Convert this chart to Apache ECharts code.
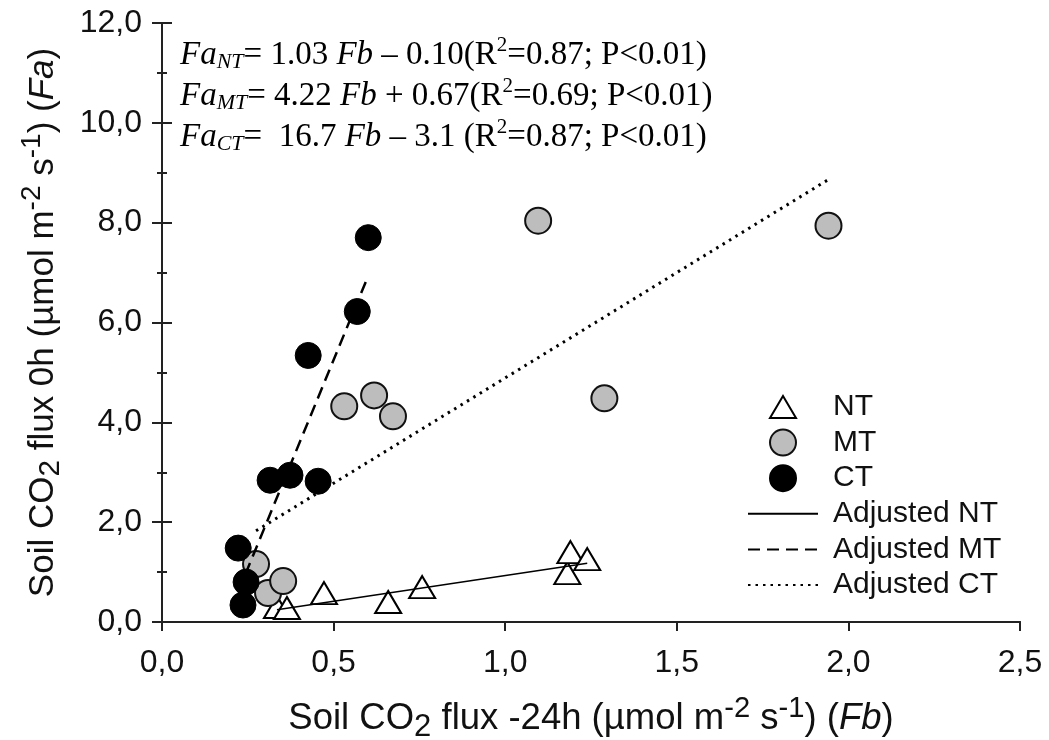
<!DOCTYPE html>
<html>
<head>
<meta charset="utf-8">
<script src="https://cdn.jsdelivr.net/npm/echarts@6/dist/echarts.min.js"></script>
<style>
  html, body { margin: 0; padding: 0; background: #fff; }
  #chart { width: 1049px; height: 740px; }
</style>
</head>
<body>
<div id="chart"></div>
<script>
  // values: Fb = flux -24h (x), Fa = flux 0h (y)
  const ntFb = [0.335, 0.364, 0.472, 0.659, 0.758, 1.181, 1.190, 1.239]
  const ntFa = [0.30, 0.28, 0.58, 0.40, 0.70, 0.98, 1.40, 1.26]
  const mtFb = [0.274, 0.309, 0.353, 0.531, 0.618, 0.673, 1.096, 1.289, 1.942]
  const mtFa = [1.16, 0.58, 0.82, 4.32, 4.54, 4.12, 8.04, 4.48, 7.94]
  const ctFb = [0.222, 0.245, 0.236, 0.315, 0.373, 0.455, 0.426, 0.569, 0.601]
  const ctFa = [1.48, 0.80, 0.34, 2.84, 2.94, 2.82, 5.34, 6.22, 7.70]

  // fitted lines, as labelled in the legend of the original figure
  const fitNames = ['Adjusted NT', 'Adjusted MT', 'Adjusted CT']
  const fitSlopes = [1.03, 16.7, 4.22]
  const fitIntercepts = [-0.10, -3.1, 0.67]
  const fitSpans = [ntFb, ctFb, mtFb] // x range each line is drawn over

  const xTicks = [0, 2.5, 0.5] // min, max, interval
  const yTicks = [0, 12, 2]

  const equations = [
    '{i|Fa}{si|NT}{r|= 1.03 }{i|Fb}{r| – 0.10(R}{sup|2}{r|=0.87; P<0.01)}',
    '{i|Fa}{si|MT}{r|= 4.22 }{i|Fb}{r| + 0.67(R}{sup|2}{r|=0.69; P<0.01)}',
    '{i|Fa}{si|CT}{r|=  16.7 }{i|Fb}{r| – 3.1 (R}{sup|2}{r|=0.87; P<0.01)}'
  ]

  const pairs = (xs, ys) => xs.map((x, i) => [x, ys[i]])
  const fitLine = (k) => {
    const lo = Math.min(...fitSpans[k])
    const hi = Math.max(...fitSpans[k])
    return [lo, hi].map(x => [x, fitSlopes[k] * x + fitIntercepts[k]])
  }
  const comma = v => v.toFixed(1).replace('.', ',')

  const sans = 'Liberation Sans, Arial, sans-serif'
  const serif = 'Liberation Serif, Times New Roman, serif'
  const ink = '#111'
  const axisLine = { show: true, lineStyle: { color: '#222', width: 2 } }
  const tickStyle = { color: '#222', width: 2 }

  const nameRich = (size) => ({
    a: { fontSize: size, fontFamily: sans, color: ink },
    i: { fontSize: size, fontFamily: sans, fontStyle: 'italic', color: ink },
    sub: { fontSize: size * 0.85, fontFamily: sans, color: ink, padding: [size * 0.47, 0, 0, 0] },
    sup: { fontSize: size * 0.8, fontFamily: sans, color: ink, padding: [0, 0, size * 0.58, 0] }
  })

  const chart = echarts.init(document.getElementById('chart'))

  chart.setOption({
    animation: false,
    backgroundColor: '#fff',
    grid: { left: 162, right: 29, top: 23, bottom: 118, containLabel: false, outerBoundsMode: 'none' },
    legend: {
      orient: 'vertical',
      left: 742,
      top: 387,
      itemWidth: 70,
      itemHeight: 26,
      itemGap: 5.6,
      textStyle: { fontSize: 30, fontFamily: sans, color: ink, padding: [0, 0, 0, 10] },
      data: [
        { name: 'NT', icon: 'path://M0,0M0,26M13,2L26,24L0,24Z' },
        { name: 'MT' },
        { name: 'CT' }
      ].concat(fitNames.map(n => ({ name: n, itemStyle: { opacity: 0 } })))
    },
    graphic: [{
      type: 'text',
      left: 180,
      top: 35,
      style: {
        text: equations.join('\n'),
        rich: {
          r: { fontSize: 33, fontFamily: serif, color: ink, lineHeight: 40.5 },
          i: { fontSize: 33, fontFamily: serif, fontStyle: 'italic', color: ink, lineHeight: 40.5 },
          si: { fontSize: 22, fontFamily: serif, fontStyle: 'italic', color: ink, padding: [14, 0, 0, 0] },
          sup: { fontSize: 21, fontFamily: serif, color: ink, padding: [0, 0, 20, 0] }
        }
      }
    }],
    xAxis: [{
      type: 'value',
      position: 'bottom',
      min: xTicks[0],
      max: xTicks[1],
      interval: xTicks[2],
      axisLine,
      axisTick: { show: true, length: 9, lineStyle: tickStyle },
      axisLabel: { fontSize: 32, fontFamily: sans, color: ink, margin: 25, formatter: comma },
      splitLine: { show: false },
      name: '{a|Soil CO}{sub|2}{a| flux -24h (µmol m}{sup|-2}{a| s}{sup|-1}{a|) (}{i|Fb}{a|)}',
      nameLocation: 'middle',
      nameGap: 72,
      nameTextStyle: { rich: nameRich(36.5) }
    }, {
      type: 'value',
      position: 'top',
      min: xTicks[0],
      max: xTicks[1],
      axisLine,
      axisTick: { show: false },
      axisLabel: { show: false },
      splitLine: { show: false }
    }],
    yAxis: [{
      type: 'value',
      position: 'left',
      min: yTicks[0],
      max: yTicks[1],
      interval: yTicks[2],
      axisLine,
      axisTick: { show: true, length: 10, lineStyle: tickStyle },
      minorTick: { show: true, splitNumber: 2, length: 5, lineStyle: tickStyle },
      axisLabel: { fontSize: 32, fontFamily: sans, color: ink, margin: 20, formatter: comma },
      splitLine: { show: false },
      name: '{a|Soil CO}{sub|2}{a| flux 0h (µmol m}{sup|-2}{a| s}{sup|-1}{a|) (}{i|Fa}{a|)}',
      nameLocation: 'middle',
      nameRotate: 90,
      nameGap: 95,
      nameTextStyle: { rich: nameRich(35) }
    }, {
      type: 'value',
      position: 'right',
      min: yTicks[0],
      max: yTicks[1],
      interval: yTicks[2],
      axisLine,
      axisTick: { show: true, length: 10, lineStyle: tickStyle },
      minorTick: { show: true, splitNumber: 2, length: 5, lineStyle: tickStyle },
      axisLabel: { show: false },
      splitLine: { show: false }
    }],
    series: [{
      name: 'NT',
      type: 'scatter',
      symbol: 'triangle',
      symbolSize: [26, 22],
      itemStyle: { color: '#fff', borderColor: '#000', borderWidth: 2, opacity: 1 },
      data: pairs(ntFb, ntFa)
    }, {
      name: 'MT',
      type: 'scatter',
      symbolSize: 26,
      itemStyle: { color: '#bdbdbd', borderColor: '#111', borderWidth: 2, opacity: 1 },
      data: pairs(mtFb, mtFa)
    }, {
      name: 'CT',
      type: 'scatter',
      symbolSize: 26,
      itemStyle: { color: '#000', borderColor: '#000', borderWidth: 1, opacity: 1 },
      data: pairs(ctFb, ctFa)
    }, {
      name: fitNames[0],
      type: 'line',
      symbol: 'none',
      z: 5,
      lineStyle: { color: '#000', width: 1.5, type: 'solid' },
      itemStyle: { color: '#000' },
      data: fitLine(0)
    }, {
      name: fitNames[1],
      type: 'line',
      symbol: 'none',
      z: 5,
      lineStyle: { color: '#000', width: 2.5, type: [12, 7] },
      itemStyle: { color: '#000' },
      data: fitLine(1)
    }, {
      name: fitNames[2],
      type: 'line',
      symbol: 'none',
      z: 5,
      lineStyle: { color: '#000', width: 3, type: [2.5, 5] },
      itemStyle: { color: '#000' },
      data: fitLine(2)
    }]
  })
</script>
</body>
</html>
